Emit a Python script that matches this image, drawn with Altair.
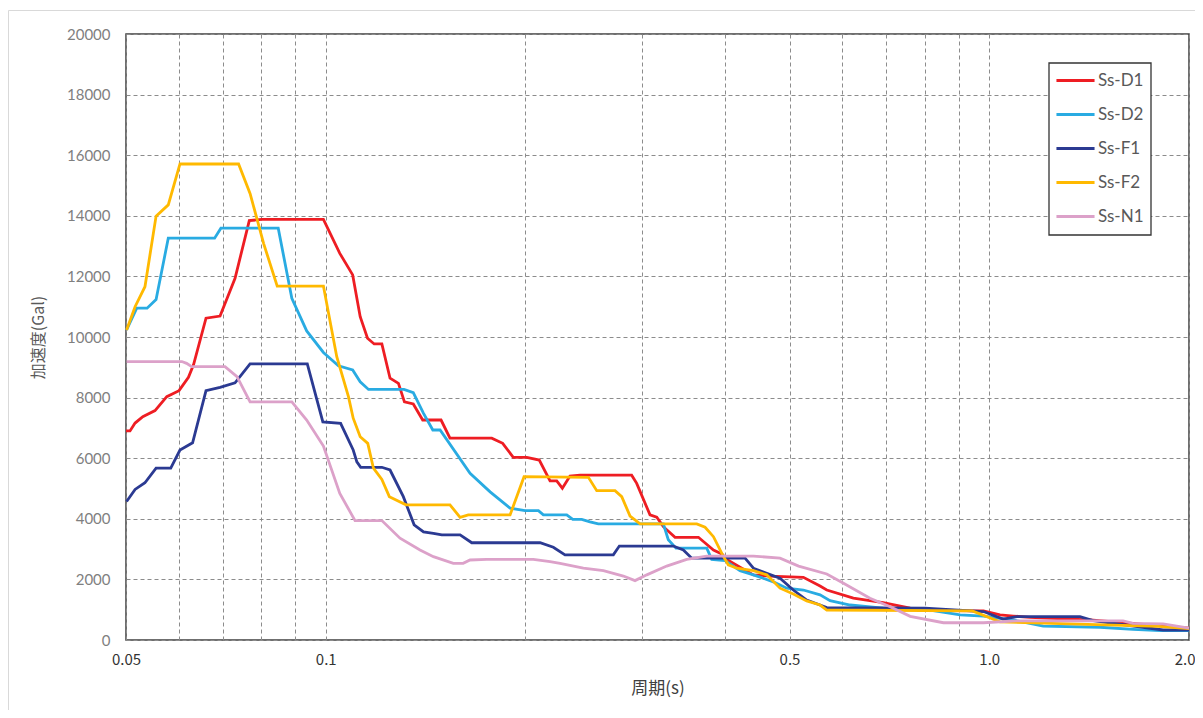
import altair as alt
import pandas as pd

SERIES = ["Ss-D1", "Ss-D2", "Ss-F1", "Ss-F2", "Ss-N1"]
COLORS = ["#EE1D23", "#29ABE2", "#2B3A92", "#FFB900", "#DCA1C9"]

D1_T = [0.05, 0.0507, 0.0516, 0.053, 0.0553, 0.0576, 0.0601, 0.0621, 0.0632, 0.066, 0.0693, 0.073, 0.0767, 0.0801, 0.0992, 0.105, 0.1098, 0.1127, 0.1156, 0.1183, 0.1215, 0.125, 0.1287, 0.1314, 0.1355, 0.14, 0.1492, 0.1539, 0.1779, 0.1848, 0.1917, 0.2009, 0.2098, 0.2178, 0.2229, 0.2273, 0.2334, 0.2417, 0.2891, 0.2942, 0.3081, 0.3154, 0.3227, 0.3361, 0.3645, 0.384, 0.3953, 0.4022, 0.4211, 0.4411, 0.4673, 0.5246, 0.5559, 0.569, 0.624, 0.692, 0.76, 0.853, 0.98, 1.038, 1.087, 1.152, 1.419, 2.0]
D1_A = [6900, 6900, 7160, 7370, 7570, 8030, 8230, 8670, 9080, 10620, 10690, 11940, 13840, 13880, 13880, 12760, 12050, 10670, 9960, 9770, 9770, 8640, 8470, 7860, 7790, 7260, 7260, 6660, 6660, 6490, 6030, 6030, 5940, 5250, 5250, 5010, 5410, 5440, 5440, 5170, 4130, 4050, 3740, 3390, 3390, 2970, 2840, 2660, 2400, 2150, 2110, 2070, 1780, 1650, 1380, 1230, 1050, 970, 960, 830, 790, 750, 660, 390]

D2_T = [0.0501, 0.0519, 0.0538, 0.0555, 0.0579, 0.068, 0.0695, 0.0848, 0.0889, 0.0936, 0.0992, 0.1045, 0.1098, 0.1127, 0.116, 0.1312, 0.1355, 0.1404, 0.145, 0.1487, 0.165, 0.1769, 0.1896, 0.1997, 0.2092, 0.2128, 0.2308, 0.2357, 0.2431, 0.2502, 0.2575, 0.2977, 0.3227, 0.3283, 0.3372, 0.3752, 0.3817, 0.3998, 0.4211, 0.4411, 0.4727, 0.4952, 0.5246, 0.5559, 0.5755, 0.617, 0.692, 0.823, 0.904, 0.98, 1.086, 1.206, 1.469, 1.647, 1.809, 2.0]
D2_A = [10230, 10950, 10950, 11240, 13260, 13260, 13590, 13590, 11280, 10200, 9490, 9050, 8910, 8520, 8270, 8270, 8160, 7480, 6930, 6930, 5500, 4890, 4350, 4270, 4270, 4130, 4130, 3980, 3980, 3900, 3830, 3830, 3830, 3310, 3030, 3030, 2660, 2620, 2290, 2150, 1920, 1710, 1650, 1490, 1300, 1155, 1050, 970, 830, 790, 660, 460, 420, 350, 310, 310]

F1_T = [0.0501, 0.0516, 0.0534, 0.0555, 0.0584, 0.0603, 0.063, 0.066, 0.0693, 0.073, 0.0769, 0.0938, 0.099, 0.1053, 0.11, 0.1114, 0.1129, 0.1215, 0.125, 0.1309, 0.1359, 0.1404, 0.1453, 0.1496, 0.1594, 0.166, 0.2104, 0.2203, 0.2294, 0.2713, 0.277, 0.3341, 0.3459, 0.3561, 0.4285, 0.4411, 0.462, 0.4838, 0.5066, 0.5307, 0.5559, 0.569, 0.8, 0.98, 1.049, 1.101, 1.37, 1.434, 1.828, 2.0]
F1_A = [4570, 4970, 5190, 5670, 5670, 6270, 6510, 8230, 8340, 8490, 9110, 9110, 7200, 7150, 6270, 5880, 5700, 5700, 5610, 4730, 3800, 3570, 3520, 3470, 3470, 3210, 3210, 3060, 2810, 2810, 3100, 3100, 2970, 2700, 2700, 2370, 2200, 2040, 1650, 1320, 1155, 1070, 1050, 940, 690, 770, 770, 640, 330, 330]

F2_T = [0.0501, 0.0516, 0.0534, 0.0555, 0.0579, 0.0603, 0.0739, 0.0769, 0.0806, 0.0845, 0.0992, 0.1039, 0.1082, 0.11, 0.1127, 0.1157, 0.118, 0.1215, 0.1247, 0.1321, 0.1539, 0.1594, 0.164, 0.1896, 0.199, 0.2488, 0.2561, 0.2729, 0.2793, 0.2875, 0.2977, 0.3624, 0.373, 0.384, 0.3953, 0.4043, 0.4163, 0.4411, 0.462, 0.4838, 0.5066, 0.5307, 0.5559, 0.569, 0.943, 1.038, 1.8, 2.0]
F2_A = [10230, 11000, 11660, 13990, 14360, 15710, 15710, 14740, 13090, 11680, 11680, 9350, 8030, 7320, 6710, 6490, 5670, 5300, 4730, 4460, 4460, 4050, 4130, 4130, 5390, 5370, 4930, 4930, 4730, 4090, 3830, 3830, 3720, 3410, 2860, 2480, 2370, 2290, 2150, 1710, 1520, 1290, 1155, 990, 960, 600, 450, 380]

N1_T = [0.0501, 0.0607, 0.0617, 0.0628, 0.0705, 0.0735, 0.0769, 0.0889, 0.0936, 0.0992, 0.105, 0.1107, 0.1215, 0.1294, 0.1387, 0.1453, 0.1557, 0.1611, 0.165, 0.1748, 0.2055, 0.2178, 0.2255, 0.2445, 0.2621, 0.2809, 0.2925, 0.3047, 0.3265, 0.35, 0.3752, 0.4411, 0.4838, 0.516, 0.569, 0.603, 0.661, 0.709, 0.76, 0.853, 0.98, 1.101, 1.591, 1.647, 1.828, 2.0]
N1_A = [9190, 9190, 9130, 9020, 9020, 8690, 7860, 7860, 7260, 6400, 4840, 3940, 3940, 3360, 2970, 2750, 2530, 2530, 2640, 2660, 2660, 2590, 2530, 2370, 2290, 2110, 1960, 2150, 2440, 2660, 2770, 2770, 2700, 2440, 2180, 1870, 1380, 1100, 780, 570, 570, 630, 630, 550, 530, 390]

X_GRID = [0.05, 0.06, 0.07, 0.08, 0.09, 0.1, 0.2, 0.3, 0.4, 0.5, 0.6, 0.7, 0.8, 0.9, 1.0, 2.0]
Y_TICKS = list(range(0, 20001, 2000))

rows = []
for name, ts, acs in zip(SERIES, [D1_T, D2_T, F1_T, F2_T, N1_T], [D1_A, D2_A, F1_A, F2_A, N1_A]):
    assert len(ts) == len(acs), name
    for t, a in zip(ts, acs):
        rows.append({"series": name, "period": t, "accel": a})
df = pd.DataFrame(rows)

label_expr = ("abs(datum.value-0.05)<1e-6 ? '0.05' : abs(datum.value-0.1)<1e-6 ? '0.1' : "
              "abs(datum.value-0.5)<1e-6 ? '0.5' : abs(datum.value-1)<1e-6 ? '1.0' : "
              "abs(datum.value-2)<1e-6 ? '2.0' : ''")

one = pd.DataFrame({"k": [0]})

outer = alt.Chart(one).mark_rect(fill=None, stroke="#d9d9d9", strokeWidth=1).encode(
    x=alt.value(-117.5), x2=alt.value(1100), y=alt.value(-23.5), y2=alt.value(720)
)
legend_box = alt.Chart(one).mark_rect(fill="white", stroke="#333333", strokeWidth=1.3).encode(
    x=alt.value(923), x2=alt.value(1025), y=alt.value(29), y2=alt.value(201)
)

lines = alt.Chart(df).mark_line(strokeWidth=2.8, strokeJoin="miter").encode(
    x=alt.X("period:Q",
            scale=alt.Scale(type="log", domain=[0.05, 2.0], nice=False),
            axis=alt.Axis(values=X_GRID, labelExpr=label_expr, title="周期(s)",
                          grid=True, gridDash=[4, 3], gridColor="#8c8c8c", gridWidth=1,
                          ticks=False, domain=False, labelOverlap=False, labelFlush=False,
                          labelAlign={"condition": {"test": "datum.value > 1.9", "value": "right"}, "value": "center"},
                          labelOffset={"condition": {"test": "datum.value > 1.9", "value": 6}, "value": 0},
                          labelFont="Noto Sans CJK JP", labelFontSize=15, labelColor="#333333",
                          labelPadding=12, titleFont="Noto Sans CJK JP", titleFontSize=17,
                          titleFontWeight="normal", titleColor="#404040", titlePadding=13)),
    y=alt.Y("accel:Q",
            scale=alt.Scale(domain=[0, 20000], nice=False),
            axis=alt.Axis(values=Y_TICKS, format="d", title="加速度(Gal)",
                          grid=True, gridDash=[4, 3], gridColor="#8c8c8c", gridWidth=1,
                          ticks=False, domain=False, labelFont="Lato", labelFontSize=15,
                          labelColor="#7f7f7f", labelPadding=16,
                          titleFont="Noto Sans CJK JP", titleFontSize=16,
                          titleFontWeight="normal", titleColor="#595959", titlePadding=20)),
    color=alt.Color("series:N",
                    scale=alt.Scale(domain=SERIES, range=COLORS),
                    legend=alt.Legend(title=None, orient="none", legendX=933, legendY=30,
                                      symbolType="M-1.27,0L1.27,0", symbolSize=900,
                                      symbolStrokeWidth=3, labelFont="Lato", labelFontSize=17,
                                      labelColor="#595959", labelOffset=6, rowPadding=9,
                                      padding=0)),
    order=alt.Order("period:Q"),
)

chart = alt.layer(outer, legend_box, lines).properties(
    width=1063, height=606,
    autosize=alt.AutoSizeParams(type="none"),
    padding={"left": 118, "top": 26, "right": 6, "bottom": 70},
).configure_view(stroke="#404040", strokeWidth=1.5)

chart.save("out.html", embed_options={"renderer": "svg", "actions": False})
